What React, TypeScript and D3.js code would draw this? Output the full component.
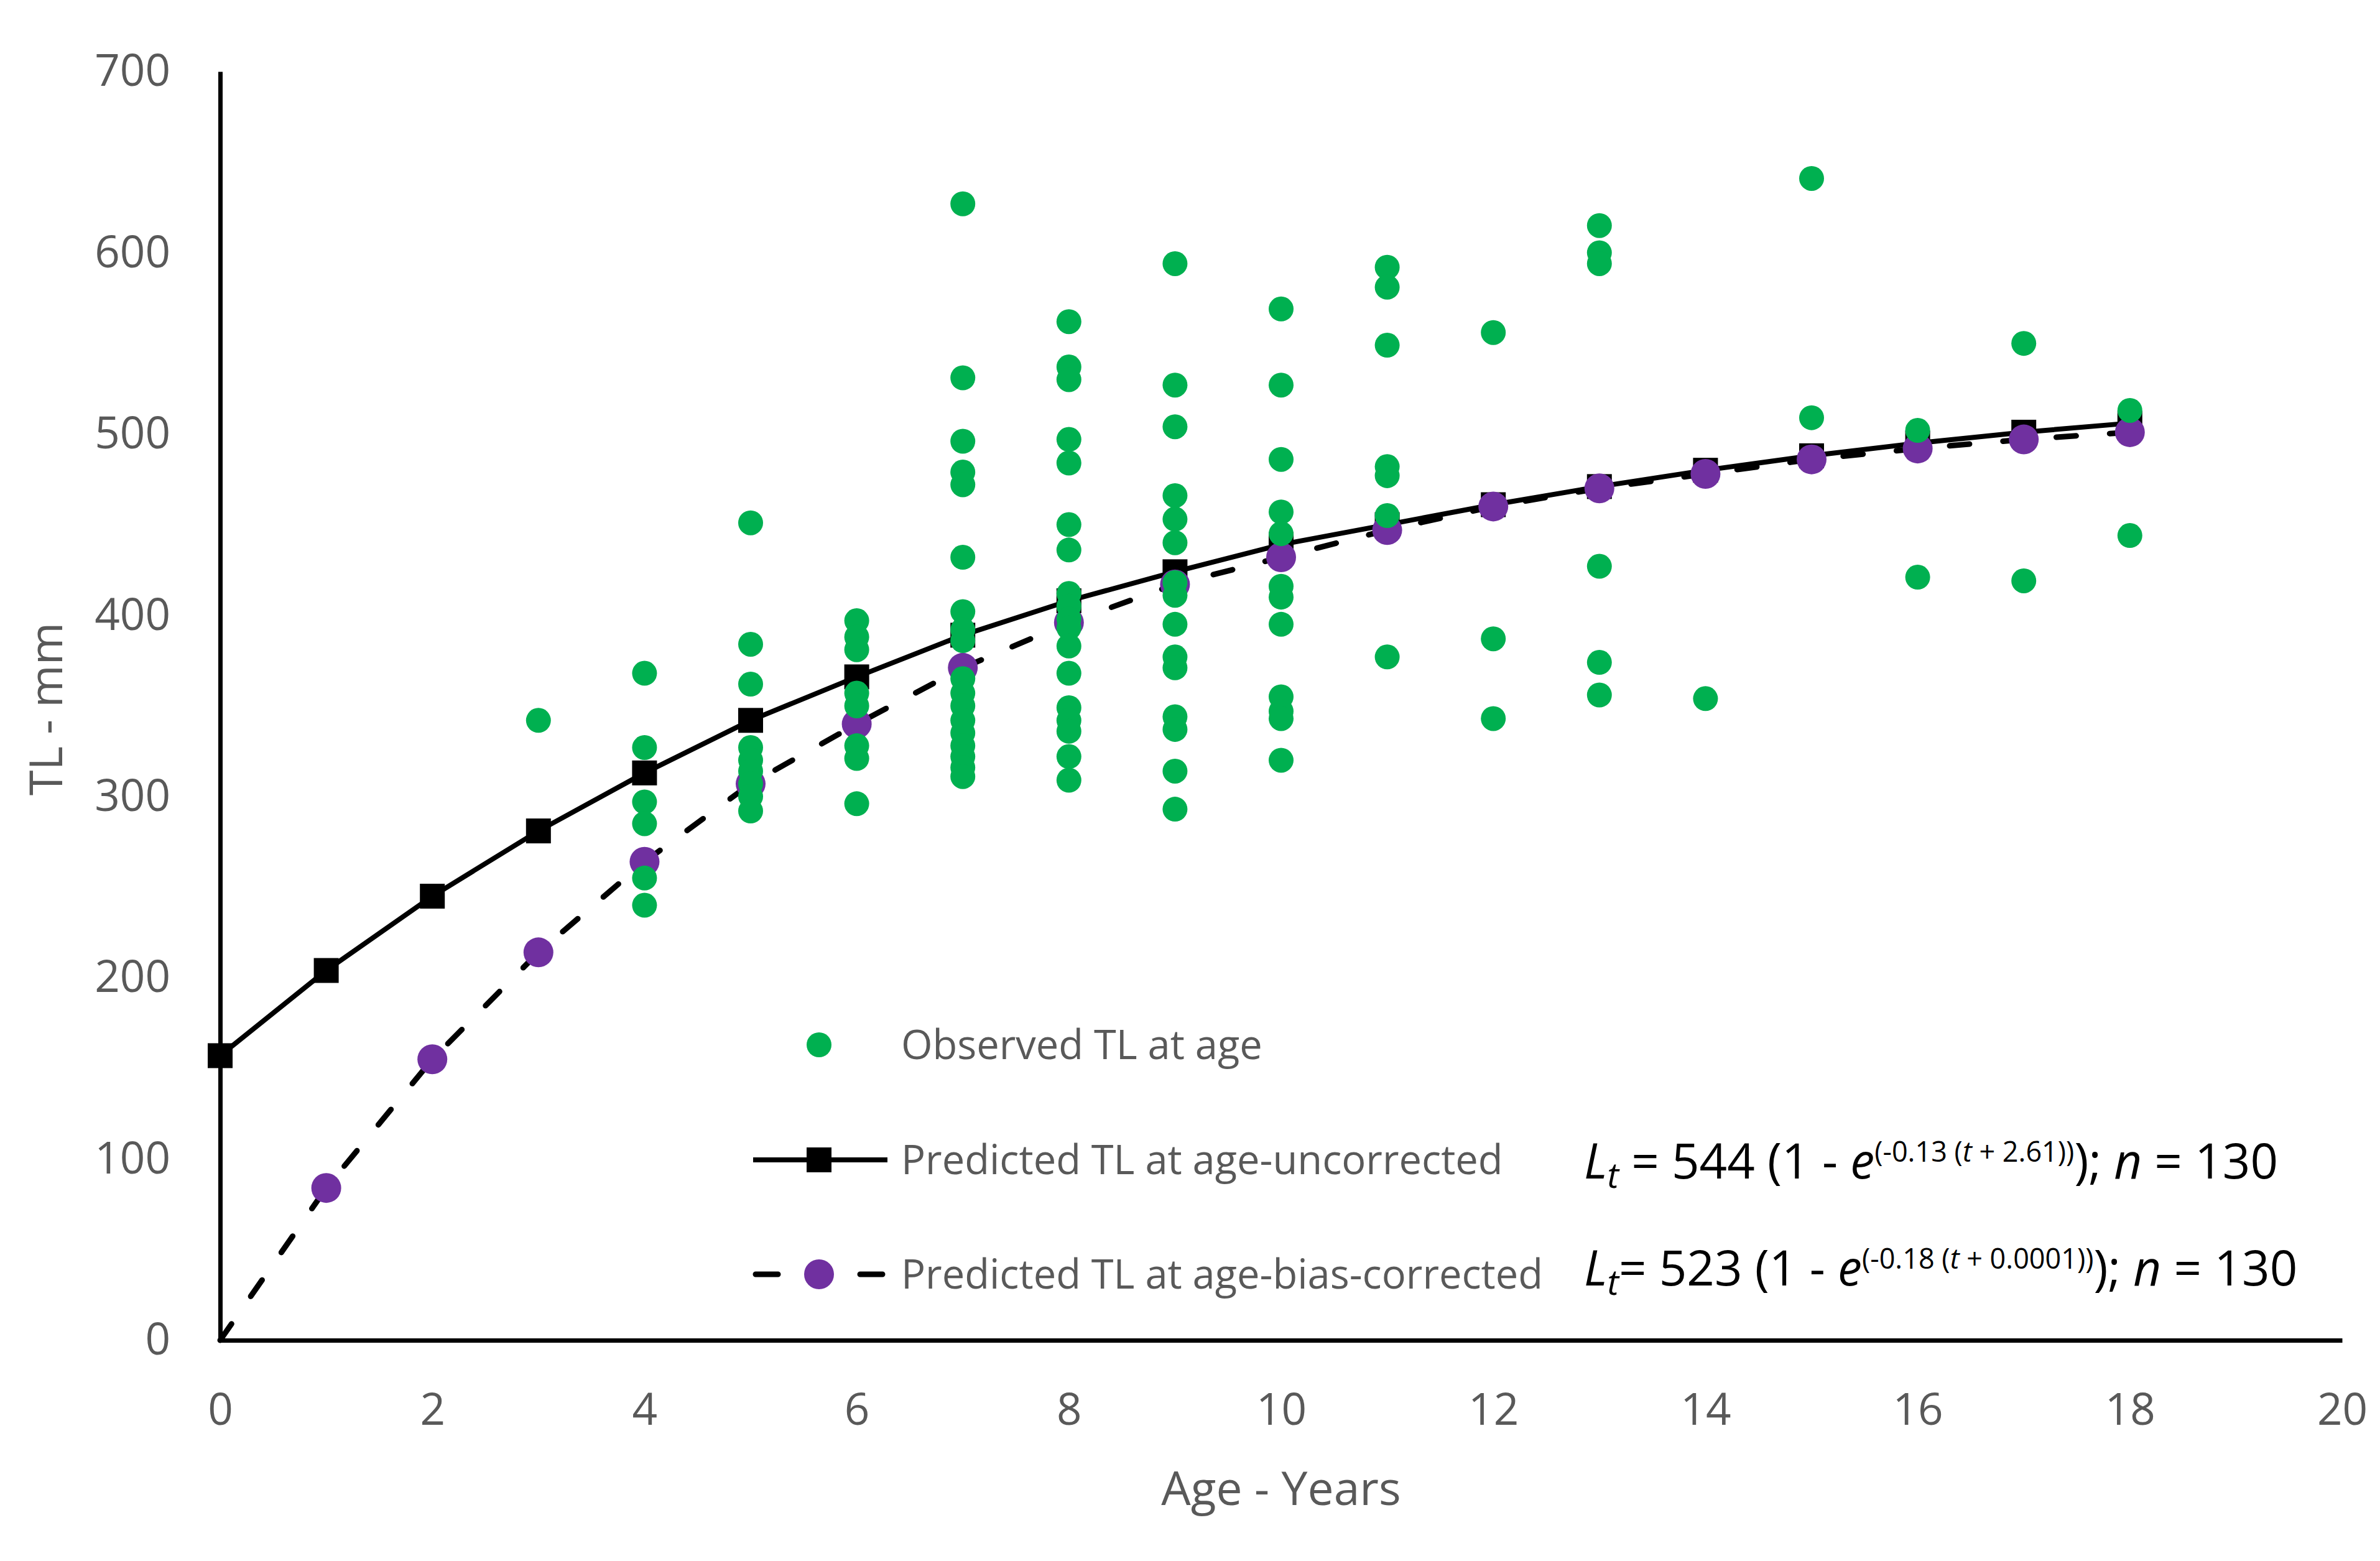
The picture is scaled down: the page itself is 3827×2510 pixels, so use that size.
import React, { useEffect, useRef } from "react";
import * as d3 from "d3";

// axis ticks
const xTicks = [0, 2, 4, 6, 8, 10, 12, 14, 16, 18, 20];
const yTicks = [0, 100, 200, 300, 400, 500, 600, 700];

// observed TL (mm) by age
const obsAges = [3, 4, 5, 6, 7, 8, 9, 10, 11, 12, 13, 14, 15, 16, 17, 18];
const obsTL = [
  [342],
  [368, 327, 297, 285, 255, 240],
  [451, 384, 362, 327, 320, 314, 307, 300, 292],
  [397, 388, 381, 357, 350, 328, 321, 296],
  [627, 531, 496, 479, 472, 432, 402, 392, 386, 365, 357, 350, 342, 335, 328, 322, 316, 311],
  [562, 537, 530, 497, 484, 450, 436, 412, 405, 398, 393, 383, 368, 349, 342, 336, 322, 309],
  [594, 527, 504, 466, 453, 440, 418, 411, 395, 377, 371, 344, 337, 314, 293],
  [569, 527, 486, 457, 445, 416, 410, 395, 355, 347, 343, 320],
  [592, 581, 549, 482, 477, 455, 377],
  [556, 387, 343],
  [615, 600, 594, 427, 374, 356],
  [354],
  [641, 509],
  [502, 421],
  [550, 419],
  [513, 444],
];

// predicted TL at age
const predAges = [0, 1, 2, 3, 4, 5, 6, 7, 8, 9, 10, 11, 12, 13, 14, 15, 16, 17, 18];
const predUncorrected = [157, 204, 245, 281, 313, 342, 366, 389, 408, 424, 439, 450, 461, 471, 480, 488, 495, 501, 506];
const predCorrected = [0, 84, 155, 214, 264, 307, 340, 371, 396, 417, 432, 447, 460, 470, 478, 486, 492, 497, 501];

const legendLabels = [
  "Observed TL at age",
  "Predicted TL at age-uncorrected",
  "Predicted TL at age-bias-corrected",
];

const GREEN = "#00B050";
const PURPLE = "#7030A0";
const GREY = "#595959";
const FONT = "'Open Sans', sans-serif";

const W = 3827;
const H = 2510;

const App: React.FC = () => {
  const svgRef = useRef<SVGSVGElement | null>(null);

  useEffect(() => {
    if (!svgRef.current) return;
    const svg = d3.select(svgRef.current);
    svg.selectAll("*").remove();

    const x = d3.scaleLinear().domain([0, 20]).range([354, 3766]);
    const y = d3.scaleLinear().domain([0, 700]).range([2155, 115]);

    // predicted lines
    const pu = predAges.map((a, i) => [a, predUncorrected[i]] as [number, number]);
    const pc = predAges.map((a, i) => [a, predCorrected[i]] as [number, number]);
    const line = d3
      .line<[number, number]>()
      .x((d) => x(d[0]))
      .y((d) => y(d[1]));

    svg
      .append("path")
      .attr("d", line(pc))
      .attr("fill", "none")
      .attr("stroke", "black")
      .attr("stroke-width", 9)
      .attr("stroke-linecap", "round")
      .attr("stroke-dasharray", "32 54");

    svg
      .append("path")
      .attr("d", line(pu))
      .attr("fill", "none")
      .attr("stroke", "black")
      .attr("stroke-width", 8);

    svg
      .selectAll("rect.sq")
      .data(pu)
      .enter()
      .append("rect")
      .attr("class", "sq")
      .attr("x", (d) => x(d[0]) - 20)
      .attr("y", (d) => y(d[1]) - 20)
      .attr("width", 40)
      .attr("height", 40)
      .attr("fill", "black");

    svg
      .selectAll("circle.pc")
      .data(pc.filter((d) => d[0] > 0))
      .enter()
      .append("circle")
      .attr("class", "pc")
      .attr("cx", (d) => x(d[0]))
      .attr("cy", (d) => y(d[1]))
      .attr("r", 24)
      .attr("fill", PURPLE);

    // observed points
    const obs: [number, number][] = [];
    obsAges.forEach((a, i) => obsTL[i].forEach((v) => obs.push([a, v])));
    svg
      .selectAll("circle.obs")
      .data(obs)
      .enter()
      .append("circle")
      .attr("class", "obs")
      .attr("cx", (d) => x(d[0]))
      .attr("cy", (d) => y(d[1]))
      .attr("r", 20)
      .attr("fill", GREEN);

    // axes
    const yAxis = svg
      .append("g")
      .attr("transform", `translate(${x(0)},0)`)
      .call(d3.axisLeft(y).tickValues(yTicks).tickSize(0).tickSizeOuter(0).tickPadding(80));
    const xAxis = svg
      .append("g")
      .attr("transform", `translate(0,${y(0)})`)
      .call(d3.axisBottom(x).tickValues(xTicks).tickSize(0).tickSizeOuter(0).tickPadding(86));

    [yAxis, xAxis].forEach((g) => {
      g.select(".domain").attr("stroke", "black").attr("stroke-width", 7);
      g.selectAll("text")
        .attr("font-family", FONT)
        .attr("font-size", 71)
        .attr("fill", GREY);
    });

    // axis titles
    svg
      .append("text")
      .attr("x", (x(0) + x(20)) / 2)
      .attr("y", 2420)
      .attr("text-anchor", "middle")
      .attr("font-family", FONT)
      .attr("font-size", 75)
      .attr("fill", GREY)
      .text("Age - Years");

    svg
      .append("text")
      .attr("transform", `translate(100,1140) rotate(-90)`)
      .attr("text-anchor", "middle")
      .attr("font-family", FONT)
      .attr("font-size", 74)
      .attr("fill", GREY)
      .text("TL - mm");

    // legend
    const legY = [1680, 1865, 2049];
    const lg = svg.append("g");
    lg.append("circle").attr("cx", 1317).attr("cy", legY[0]).attr("r", 20).attr("fill", GREEN);
    lg.append("line")
      .attr("x1", 1211).attr("x2", 1427).attr("y1", legY[1]).attr("y2", legY[1])
      .attr("stroke", "black").attr("stroke-width", 8);
    lg.append("rect")
      .attr("x", 1297).attr("y", legY[1] - 20).attr("width", 40).attr("height", 40)
      .attr("fill", "black");
    lg.append("line")
      .attr("x1", 1215).attr("x2", 1420).attr("y1", legY[2]).attr("y2", legY[2])
      .attr("stroke", "black").attr("stroke-width", 9)
      .attr("stroke-linecap", "round").attr("stroke-dasharray", "36 48");
    lg.append("circle").attr("cx", 1317).attr("cy", legY[2]).attr("r", 24).attr("fill", PURPLE);

    lg.selectAll("text.leg")
      .data(legendLabels)
      .enter()
      .append("text")
      .attr("class", "leg")
      .attr("x", 1449)
      .attr("y", (_, i) => legY[i])
      .attr("dy", "0.36em")
      .attr("font-family", FONT)
      .attr("font-size", 65)
      .attr("fill", GREY)
      .text((d) => d);

    // growth equations
    const eq = (yb: number, k: string, lInf: string, t0: string, eqSpace: string) => {
      const t = svg
        .append("text")
        .attr("x", 2547)
        .attr("y", yb)
        .attr("font-family", FONT)
        .attr("font-size", 78)
        .attr("fill", "black")
        .style("white-space", "pre");
      t.append("tspan").attr("font-style", "italic").text("L");
      t.append("tspan").attr("font-style", "italic").attr("font-size", 56).attr("dy", 15).text("t");
      t.append("tspan").attr("dy", -15).text(`${eqSpace}= ${lInf} (1 - `);
      t.append("tspan").attr("font-style", "italic").text("e");
      t.append("tspan").attr("font-size", 45).attr("dy", -27).text(`(-${k} (`);
      t.append("tspan").attr("font-size", 45).attr("font-style", "italic").text("t");
      t.append("tspan").attr("font-size", 45).text(` + ${t0}))`);
      t.append("tspan").attr("dy", 27).text("); ");
      t.append("tspan").attr("font-style", "italic").text("n");
      t.append("tspan").text(" = 130");
    };
    eq(1895, "0.13", "544", "2.61", " ");
    eq(2067, "0.18", "523", "0.0001", "");
  }, []);

  return (
    <div style={{ position: "absolute", left: 0, top: 0, background: "white" }}>
      <svg ref={svgRef} width={W} height={H} style={{ display: "block" }}></svg>
    </div>
  );
};

export default App;
